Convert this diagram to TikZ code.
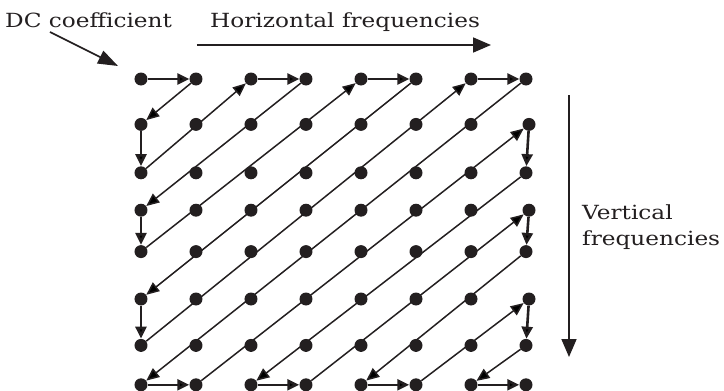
\documentclass[tikz,border=0pt]{standalone}
\usepackage{fontspec}
\setmainfont{DejaVu Serif}[FakeStretch=1.19]
\usetikzlibrary{positioning,arrows.meta}
\definecolor{ink}{RGB}{35,31,32}
\tikzset{
  dot/.style={circle, fill=ink, inner sep=0pt, minimum size=13pt},
  zig/.style={draw=ink, line width=1.5pt, -{Triangle[length=13pt,width=11pt]}},
  hop/.style={draw=ink, line width=2.6pt, -{Triangle[length=12pt,width=11pt]}},
  axis/.style={draw=ink, line width=1.8pt, -{Triangle[length=18pt,width=15pt]}},
  lbl/.style={inner sep=0pt, anchor=base west, text=ink, font=\fontsize{19.5}{23}\selectfont}
}

\begin{document}
\begin{tikzpicture}[x=1pt, y=1pt, node distance=32pt and 41.6pt]
\useasboundingbox (-141,79) rectangle (583,-312);
% the 8x8 grid, rows top to bottom
\node[dot] (00) at (0,0) {}; \node[dot, right=of 00] (01) {}; \node[dot, right=of 01] (02) {}; \node[dot, right=of 02] (03) {};
  \node[dot, right=of 03] (04) {}; \node[dot, right=of 04] (05) {}; \node[dot, right=of 05] (06) {}; \node[dot, right=of 06] (07) {};
\node[dot, below=32pt of 00] (10) {}; \node[dot, right=of 10] (11) {}; \node[dot, right=of 11] (12) {}; \node[dot, right=of 12] (13) {};
  \node[dot, right=of 13] (14) {}; \node[dot, right=of 14] (15) {}; \node[dot, right=of 15] (16) {}; \node[dot, right=of 16, xshift=3pt] (17) {};
\node[dot, below=35pt of 10] (20) {}; \node[dot, right=of 20] (21) {}; \node[dot, right=of 21] (22) {}; \node[dot, right=of 22] (23) {};
  \node[dot, right=of 23] (24) {}; \node[dot, right=of 24] (25) {}; \node[dot, right=of 25] (26) {}; \node[dot, right=of 26] (27) {};
\node[dot, below=24pt of 20] (30) {}; \node[dot, right=of 30] (31) {}; \node[dot, right=of 31] (32) {}; \node[dot, right=of 32] (33) {};
  \node[dot, right=of 33] (34) {}; \node[dot, right=of 34] (35) {}; \node[dot, right=of 35] (36) {}; \node[dot, right=of 36, xshift=3pt] (37) {};
\node[dot, below=28pt of 30] (40) {}; \node[dot, right=of 40] (41) {}; \node[dot, right=of 41] (42) {}; \node[dot, right=of 42] (43) {};
  \node[dot, right=of 43] (44) {}; \node[dot, right=of 44] (45) {}; \node[dot, right=of 45] (46) {}; \node[dot, right=of 46] (47) {};
\node[dot, below=34pt of 40] (50) {}; \node[dot, right=of 50] (51) {}; \node[dot, right=of 51] (52) {}; \node[dot, right=of 52] (53) {};
  \node[dot, right=of 53] (54) {}; \node[dot, right=of 54] (55) {}; \node[dot, right=of 55] (56) {}; \node[dot, right=of 56, xshift=3pt] (57) {};
\node[dot, below=33pt of 50] (60) {}; \node[dot, right=of 60] (61) {}; \node[dot, right=of 61] (62) {}; \node[dot, right=of 62] (63) {};
  \node[dot, right=of 63] (64) {}; \node[dot, right=of 64] (65) {}; \node[dot, right=of 65] (66) {}; \node[dot, right=of 66] (67) {};
\node[dot, below=26pt of 60] (70) {}; \node[dot, right=of 70] (71) {}; \node[dot, right=of 71] (72) {}; \node[dot, right=of 72] (73) {};
  \node[dot, right=of 73] (74) {}; \node[dot, right=of 74] (75) {}; \node[dot, right=of 75] (76) {}; \node[dot, right=of 76] (77) {};

% zig-zag scan
\path[hop] (00) edge (01) (02) edge (03) (04) edge (05) (06) edge (07);
\path[hop] (70) edge (71) (72) edge (73) (74) edge (75) (76) edge (77);
\path[hop] (10) edge (20) (30) edge (40) (50) edge (60);
\path[hop] (17) edge (27) (37) edge (47) (57) edge (67);
\path[zig] (01) edge (10) (20) edge (02) (03) edge (30) (40) edge (04);
\path[zig] (05) edge (50) (60) edge (06) (07) edge (70);
\path[zig] (71) edge (17) (27) edge (72) (73) edge (37);
\path[zig] (47) edge (74) (75) edge (57) (67) edge (76);

% labels
\node[lbl] (dc) at (-136,52) {DC coefficient};
\node[lbl] (horiz) at (69,52) {Horizontal frequencies};
\node[lbl] (vert) at (441,-140) {Vertical};
\node[lbl] (freq) at (441,-166) {frequencies};
\coordinate (dcfrom) at (-91,47); \coordinate (dcto) at (-23,13);
\coordinate (hfrom) at (56,34); \coordinate (hto) at (350,34);
\coordinate (vfrom) at (428,-16); \coordinate (vto) at (428,-278);
\draw[draw=ink, line width=1.6pt, -{Triangle[length=20pt,width=14pt]}] (dcfrom) -- (dcto);
\draw[axis] (hfrom) -- (hto);
\draw[axis] (vfrom) -- (vto);
\end{tikzpicture}
\end{document}
